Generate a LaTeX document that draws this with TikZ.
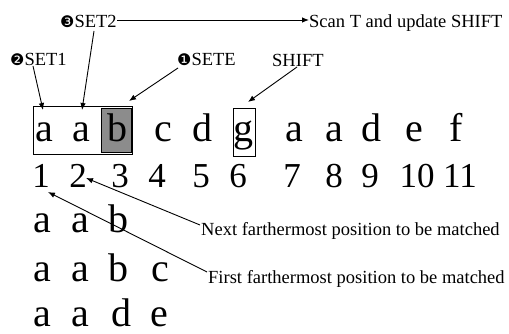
\documentclass[tikz,border=0pt]{standalone}
\usepackage{fontspec}
\setmainfont{Liberation Serif}
\newfontfamily\dingfont{DejaVu Sans}
\usetikzlibrary{arrows.meta}
\begin{document}
\begin{tikzpicture}[x=1pt,y=-1pt,
 big/.style={font=\fontsize{40}{40}\selectfont, inner sep=0pt, anchor=base},
 num/.style={font=\fontsize{35}{35}\selectfont, inner sep=0pt, anchor=base},
 lbl/.style={font=\fontsize{18.5}{18.5}\selectfont, inner sep=0pt, anchor=base west},
 arr/.style={-{Latex[length=7pt,width=5.5pt]}, line width=0.9pt},
 boxline/.style={draw, line width=0.9pt},
]
\useasboundingbox (0,0) rectangle (509,334);
% boxes
\node[boxline, minimum width=99pt, minimum height=48pt, inner sep=0pt] (boxaab) at (82.5,130) {};
\node[boxline, fill=black!45, minimum width=30pt, minimum height=44pt, inner sep=0pt] (boxb) at (116.5,130) {};
\node[boxline, minimum width=22pt, minimum height=48pt, inner sep=0pt] (boxg) at (244,132) {};
% main text row
\node[big] (t1) at (44,142) {a};
\node[big] (t2) at (81,142) {a};
\node[big] (t3) at (117,142) {b};
\node[big] (t4) at (163,142) {c};
\node[big] (t5) at (202,142) {d};
\node[big] (t6) at (243,142) {g};
\node[big] (t7) at (294,142) {a};
\node[big] (t8) at (334,142) {a};
\node[big] (t9) at (371,142) {d};
\node[big] (t10) at (414,142) {e};
\node[big] (t11) at (456,142) {f};
% numbers
\node[num] (n1) at (41,187) {1};
\node[num] (n2) at (78,187) {2};
\node[num] (n3) at (120,187) {3};
\node[num] (n4) at (157,187) {4};
\node[num] (n5) at (201,187) {5};
\node[num] (n6) at (238,187) {6};
\node[num] (n7) at (292,187) {7};
\node[num] (n8) at (334,187) {8};
\node[num] (n9) at (370,187) {9};
\node[num] (n10) at (417,187) {10};
\node[num] (n11) at (460,187) {11};
% lower rows
\node[big] (r1a) at (42,233) {a};
\node[big] (r1b) at (80,233) {a};
\node[big] (r1c) at (118,233) {b};
\node[big] (r2a) at (42,281) {a};
\node[big] (r2b) at (80,281) {a};
\node[big] (r2c) at (118,281) {b};
\node[big] (r2d) at (160,281) {c};
\node[big] (r3a) at (42,326) {a};
\node[big] (r3b) at (80,326) {a};
\node[big] (r3c) at (121,326) {d};
\node[big] (r3d) at (159,326) {e};
% labels
\node[lbl] (set2) at (60,28) {{\dingfont\fontsize{16}{16}\selectfont ❸}SET2};
\node[lbl] (scan) at (309,28) {Scan T and update SHIFT};
\node[lbl] (set1) at (10,66) {{\dingfont\fontsize{16}{16}\selectfont ❷}SET1};
\node[lbl] (sete) at (177,66) {{\dingfont\fontsize{16}{16}\selectfont ❶}SETE};
\node[lbl] (shift) at (272,67) {SHIFT};
\node[lbl] (next) at (201,235) {Next farthermost position to be matched};
\node[lbl] (first) at (208,283) {First farthermost position to be matched};
% arrow endpoints
\coordinate (e1) at (43,110);
\coordinate (e2) at (82,110);
\coordinate (e3) at (129,101);
\coordinate (e4) at (248,102);
\coordinate (s1) at (33,66);
\coordinate (s2) at (94,31);
\coordinate (s3) at (178,68);
\coordinate (s4) at (297,67);
\coordinate (en) at (86,178);
\coordinate (ef) at (48,192);
\coordinate (sn) at (200,225);
\coordinate (sf) at (207,272);
% arrows
\draw[arr] (set2.east |- 0,20) -- (scan.west |- 0,20);
\draw[arr] (s1) -- (e1);
\draw[arr] (s2) -- (e2);
\draw[arr] (s3) -- (e3);
\draw[arr] (s4) -- (e4);
\draw[arr] (sn) -- (en);
\draw[arr] (sf) -- (ef);
\end{tikzpicture}
\end{document}
